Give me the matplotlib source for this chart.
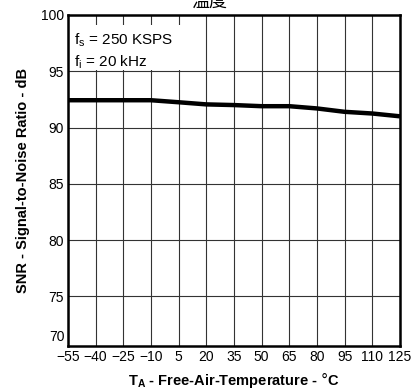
import matplotlib
matplotlib.use("Agg")
import matplotlib.pyplot as plt
from matplotlib.patches import Rectangle

plt.rcParams['font.family'] = ['Liberation Sans', 'Noto Sans CJK SC', 'DejaVu Sans']

temps = [-55, -40, -25, -10, 5, 20, 35, 50, 65, 80, 95, 110, 125]
snr = [92.43, 92.43, 92.43, 92.43, 92.25, 92.06, 92.0, 91.9, 91.9, 91.7, 91.4, 91.25, 91.0]
xticks = [-55, -40, -25, -10, 5, 20, 35, 50, 65, 80, 95, 110, 125]
xlabels = ['\u221255', '\u221240', '\u221225', '\u221210', '5', '20', '35', '50', '65', '80', '95', '110', '125']
yticks = [75, 80, 85, 90, 95, 100]
ylabels = ['75', '80', '85', '90', '95', '100']

fig = plt.figure(figsize=(4.19, 3.92), dpi=100)
ax = fig.add_axes([68/419, 1-346/392, (400-68)/419, (346-15)/392])
ax.set_xlim(-55, 125)
ax.set_ylim(70.6, 100)
ax.set_xticks(xticks)
ax.set_xticklabels(xlabels)
ax.set_yticks(yticks)
ax.set_yticklabels(ylabels)
ax.tick_params(length=0, labelsize=10, pad=3)
ax.grid(True, color='#333333', linewidth=0.8)
ax.set_axisbelow(True)
for s in ax.spines.values():
    s.set_linewidth(1.8)

ax.text(-57, 71.4, '70', ha='right', va='center', fontsize=10)

ax.add_patch(Rectangle((0.005, 0.835), 0.375, 0.135, transform=ax.transAxes,
                       facecolor='white', edgecolor='none', zorder=1.5))
ax.text(-52, 97.8, r'f$_\mathregular{s}$ = 250 KSPS', fontsize=11, va='center', zorder=3)
ax.text(-52, 95.8, r'f$_\mathregular{i}$ = 20 kHz', fontsize=11, va='center', zorder=3)

ax.plot(temps, snr, color='black', linewidth=3.2, zorder=4, solid_capstyle='butt')

ax.set_xlabel(r'T$_\mathregular{A}$ - Free-Air-Temperature - $\degree$C', fontsize=10.5,
              fontweight='bold', labelpad=4)
ax.set_ylabel('SNR - Signal-to-Noise Ratio - dB', fontsize=10.5, fontweight='bold', labelpad=8)

fig.text(0.5, 1.0 - 1.5/392, '温度', ha='center', va='center', fontsize=13,
         family=['Noto Sans CJK SC', 'DejaVu Sans'])

fig.savefig('out.png', dpi=100)
